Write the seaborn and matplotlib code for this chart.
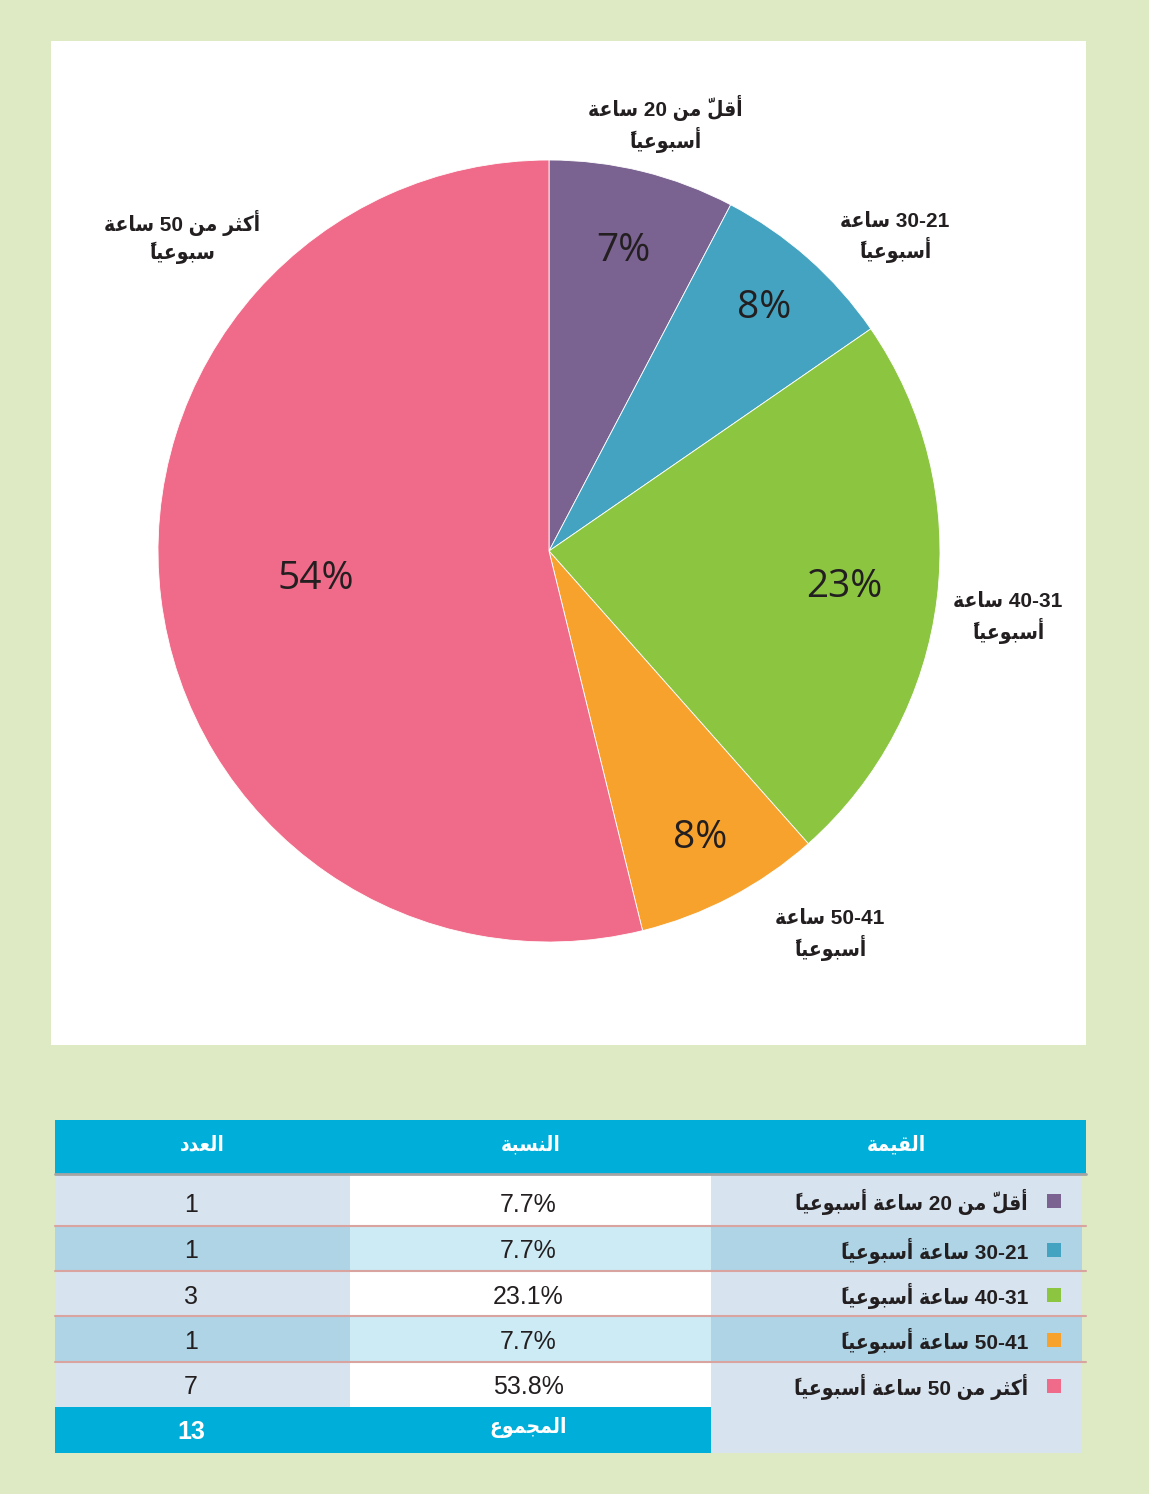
import matplotlib
matplotlib.use("Agg")
import matplotlib.pyplot as plt
import seaborn as sns
import numpy as np
from matplotlib.patches import Rectangle

# === data ===
categories = ["أقلّ من 20 ساعة أسبوعياً", "30-21 ساعة أسبوعياً", "40-31 ساعة أسبوعياً",
              "50-41 ساعة أسبوعياً", "أكثر من 50 ساعة أسبوعياً"]
pie_labels = [["أقلّ من 20 ساعة", "أسبوعياً"], ["30-21 ساعة", "أسبوعياً"],
              ["40-31 ساعة", "أسبوعياً"], ["50-41 ساعة", "أسبوعياً"],
              ["أكثر من 50 ساعة", "سبوعياً"]]
counts = [1, 1, 3, 1, 7]
pct_table = ["7.7%", "7.7%", "23.1%", "7.7%", "53.8%"]
pct_pie = ["7%", "8%", "23%", "8%", "54%"]
total = 13
headers = ["العدد", "النسبة", "القيمة"]
total_label = "المجموع"

colors = sns.color_palette(["#7B6391", "#43A3C1", "#8CC641", "#F7A22D", "#F06B89"])

# === simple arabic shaping (no reshaper lib available) ===
FORMS = {
    "\u0627": ("\uFE8D", "\uFE8E", None, None),
    "\u0623": ("\uFE83", "\uFE84", None, None),
    "\u0628": ("\uFE8F", "\uFE90", "\uFE91", "\uFE92"),
    "\u0629": ("\uFE93", "\uFE94", None, None),
    "\u062B": ("\uFE99", "\uFE9A", "\uFE9B", "\uFE9C"),
    "\u062C": ("\uFE9D", "\uFE9E", "\uFE9F", "\uFEA0"),
    "\u062F": ("\uFEA9", "\uFEAA", None, None),
    "\u0631": ("\uFEAD", "\uFEAE", None, None),
    "\u0633": ("\uFEB1", "\uFEB2", "\uFEB3", "\uFEB4"),
    "\u0639": ("\uFEC9", "\uFECA", "\uFECB", "\uFECC"),
    "\u0642": ("\uFED5", "\uFED6", "\uFED7", "\uFED8"),
    "\u0643": ("\uFED9", "\uFEDA", "\uFEDB", "\uFEDC"),
    "\u0644": ("\uFEDD", "\uFEDE", "\uFEDF", "\uFEE0"),
    "\u0645": ("\uFEE1", "\uFEE2", "\uFEE3", "\uFEE4"),
    "\u0646": ("\uFEE5", "\uFEE6", "\uFEE7", "\uFEE8"),
    "\u0648": ("\uFEED", "\uFEEE", None, None),
    "\u064A": ("\uFEF1", "\uFEF2", "\uFEF3", "\uFEF4"),
}
LAM_ALEF = {"\u0627": ("\uFEFB", "\uFEFC"), "\u0623": ("\uFEF7", "\uFEF8")}
MARKS = set("\u064B\u0651")


def shape_word(w):
    cl = []
    for ch in w:
        if ch in MARKS and cl:
            cl[-1][1] += ch
        else:
            cl.append([ch, ""])
    merged = []
    i = 0
    while i < len(cl):
        c, m = cl[i]
        if c == "\u0644" and i + 1 < len(cl) and cl[i + 1][0] in LAM_ALEF:
            merged.append(["LA" + cl[i + 1][0], m + cl[i + 1][1]])
            i += 2
        else:
            merged.append([c, m])
            i += 1
    out = []
    for i, (c, m) in enumerate(merged):
        prev = merged[i - 1][0] if i > 0 else None
        nxt = merged[i + 1][0] if i + 1 < len(merged) else None
        jp = prev in FORMS and FORMS[prev][2] is not None
        if c.startswith("LA"):
            g = LAM_ALEF[c[2]][1 if jp else 0]
        elif c in FORMS:
            f = FORMS[c]
            jn = f[2] is not None and nxt is not None and (nxt in FORMS or nxt.startswith("LA"))
            g = f[3 if (jp and jn) else 1 if jp else 2 if jn else 0]
        else:
            g = c
        # mark first so it lands over its base when drawn left to right
        out.append(m + g)
    return "".join(reversed(out))


def ar(s):
    toks = s.split(" ")[::-1]
    return " ".join(shape_word(t) if any("\u0600" <= ch <= "\u06FF" for ch in t) else t for t in toks)


# === style ===
sns.set_style("white")
plt.rcParams["font.family"] = ["Liberation Sans", "DejaVu Sans"]

W, H = 1149, 1494
bg = "#DDEAC4"
dark = "#231F20"
fig = plt.figure(figsize=(W / 100, H / 100), dpi=100)
fig.patch.set_facecolor(bg)

# background axes in pixel coords
bax = fig.add_axes([0, 0, 1, 1])
bax.set_xlim(0, W)
bax.set_ylim(H, 0)
bax.axis("off")
bax.add_patch(Rectangle((51, 41), 1035, 1004, facecolor="white", edgecolor="none"))

# === pie ===
cx, cy, R = 549, 551, 391
x0, x1, y0, y1 = 51, 1086, 41, 1045
pax = fig.add_axes([x0 / W, 1 - y1 / H, (x1 - x0) / W, (y1 - y0) / H])
pax.patch.set_alpha(0)
wedges, _ = pax.pie(counts, colors=colors, startangle=90, counterclock=False,
                    wedgeprops=dict(edgecolor="white", linewidth=0.6))
pax.set_aspect("auto")
pax.set_xlim((x0 - cx) / R, (x1 - cx) / R)
pax.set_ylim(-(y1 - cy) / R, (cy - y0) / R)
pax.axis("off")

pct_dist = [0.79, 0.83, 0.76, 0.83, 0.60]
for w, lab, d in zip(wedges, pct_pie, pct_dist):
    ang = np.deg2rad((w.theta1 + w.theta2) / 2)
    pax.text(d * np.cos(ang), d * np.sin(ang), lab, ha="center", va="center",
             fontsize=28, color=dark, family=["Open Sans", "DejaVu Sans"])

label_pos = [(0.297, 1.092), (0.885, 0.801), (1.174, -0.171), (0.719, -0.982), (-0.939, 0.803)]
for (lx, ly), lines in zip(label_pos, pie_labels):
    pax.text(lx, ly, "\n".join(ar(t) for t in lines), ha="center", va="center",
             fontsize=15, fontweight="bold", fontstretch="condensed", color=dark, linespacing=1.3)

# === table ===
head_c = "#00AEDA"
tx0, tx1 = 55, 1086
cols = [55, 350, 711, 1082]
row_y = [1174, 1226, 1271, 1316, 1362, 1407]
rows_bot = 1453
odd_side, even_side = "#D7E3EF", "#AED4E6"
odd_mid, even_mid = "#FFFFFF", "#CDEBF5"

bax.add_patch(Rectangle((tx0, 1120), tx1 - tx0, 54, facecolor=head_c, edgecolor="none"))
bax.plot([tx0, tx1], [1174, 1174], color="#A5A5A5", lw=2)
for j, h in enumerate(headers):
    bax.text((cols[j] + cols[j + 1]) / 2, 1145, ar(h), ha="center", va="center",
             fontsize=15, fontweight="bold", fontstretch="condensed", color="white")

for i in range(len(counts)):
    top = row_y[i]
    bot = row_y[i + 1]
    side = odd_side if i % 2 == 0 else even_side
    mid = odd_mid if i % 2 == 0 else even_mid
    bax.add_patch(Rectangle((cols[0], top), cols[1] - cols[0], bot - top, facecolor=side, edgecolor="none"))
    bax.add_patch(Rectangle((cols[1], top), cols[2] - cols[1], bot - top, facecolor=mid, edgecolor="none"))
    rb = rows_bot if i == len(counts) - 1 else bot
    bax.add_patch(Rectangle((cols[2], top), cols[3] - cols[2], rb - top, facecolor=side, edgecolor="none"))
    yc = (top + bot) / 2
    ny = yc + (5 if i == 0 else 3)
    bax.text(191, ny, str(counts[i]), ha="center", va="center", fontsize=18, color=dark)
    bax.text(528, ny, pct_table[i], ha="center", va="center", fontsize=18, color=dark)
    bax.text(1028, yc + 2, ar(categories[i]), ha="right", va="center", fontsize=15,
             fontweight="bold", fontstretch="condensed", color=dark)
    bax.add_patch(Rectangle((1047, yc - 6), 14, 14, facecolor=colors[i], edgecolor="none"))
    if i < len(counts) - 1:
        bax.plot([tx0, tx1], [bot, bot], color="#D9A3A0", lw=1.5)

bax.add_patch(Rectangle((cols[0], row_y[-1]), cols[2] - cols[0], rows_bot - row_y[-1],
                        facecolor=head_c, edgecolor="none"))
bax.text(191, (row_y[-1] + rows_bot) / 2 + 2, str(total), ha="center", va="center",
         fontsize=18, fontweight="bold", color="white")
bax.text(528, (row_y[-1] + rows_bot) / 2 - 2, ar(total_label), ha="center", va="center",
         fontsize=15, fontweight="bold", fontstretch="condensed", color="white")

fig.savefig("out.png", dpi=100, facecolor=bg)
